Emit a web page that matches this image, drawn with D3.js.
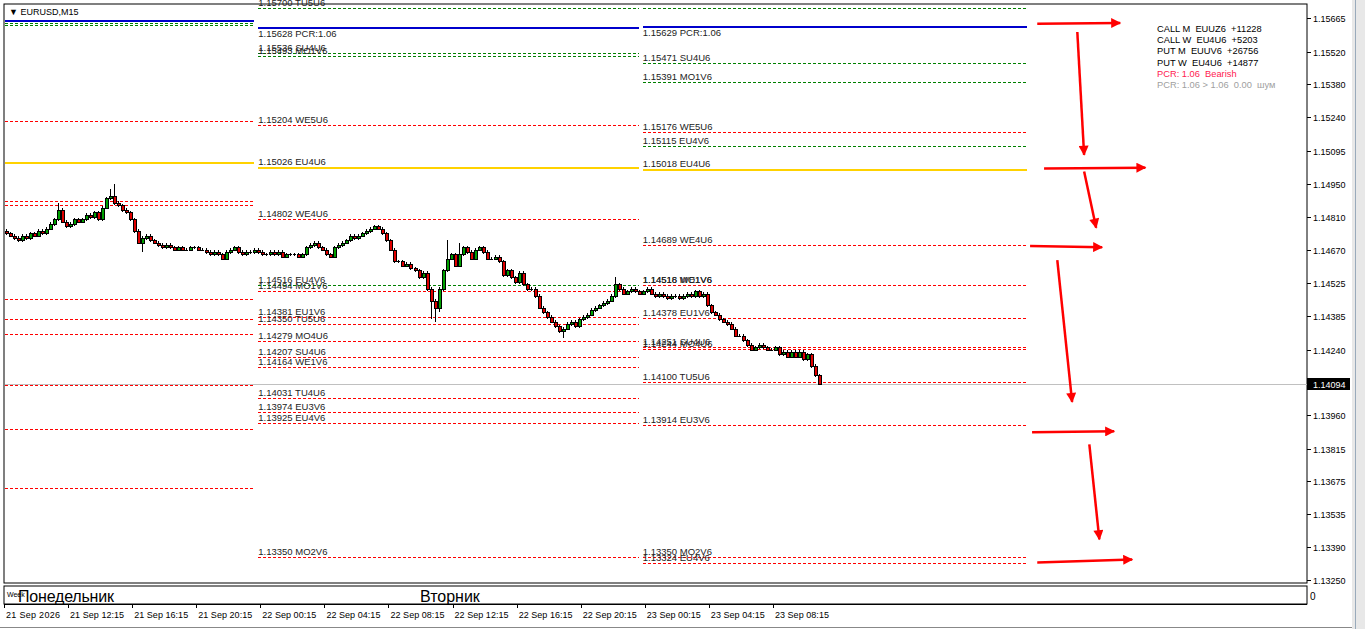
<!DOCTYPE html>
<html><head><meta charset="utf-8">
<script src="https://cdn.jsdelivr.net/npm/d3@7"></script>
<style>body{margin:0;background:#fff;overflow:hidden}svg{display:block}text{font-family:"Liberation Sans",Arial,sans-serif;white-space:pre}line{shape-rendering:crispEdges}</style>
</head><body><svg id="c" width="1365" height="629"></svg>
<script>
const closes=[1.1474,1.1473,1.1472,1.1471,1.1473,1.1472,1.1474,1.1473,1.1475,1.1474,
1.1476,1.1478,1.1480,1.1484,1.1479,1.1477,1.1478,1.1480,1.1479,1.1480,
1.1482,1.1481,1.1483,1.1480,1.1485,1.1489,1.1490,1.1487,1.1486,1.1484,
1.1483,1.1480,1.1475,1.1470,1.1472,1.1473,1.1471,1.1470,1.1469,1.1468,
1.1469,1.1468,1.1467,1.1468,1.1467,1.1467,1.1468,1.1468,1.1467,1.1467,
1.1466,1.1465,1.1466,1.1465,1.1463,1.1466,1.1467,1.1468,1.1466,1.1465,
1.1466,1.1466,1.1467,1.1466,1.1465,1.1465,1.1466,1.1465,1.1466,1.1464,
1.1465,1.1465,1.1465,1.1464,1.1465,1.1468,1.1469,1.1470,1.1468,1.1467,
1.1465,1.1464,1.1468,1.1469,1.1470,1.1471,1.1473,1.1472,1.1473,1.1474,
1.1475,1.1476,1.1477,1.1476,1.1474,1.1471,1.1467,1.1462,1.1462,1.1460,
1.1461,1.1459,1.1458,1.1455,1.1457,1.1450,1.1445,1.1442,1.1450,1.1458,
1.1463,1.1465,1.1460,1.1465,1.1468,1.1466,1.1463,1.1467,1.1468,1.1466,
1.1463,1.1463,1.1464,1.1462,1.1456,1.1458,1.1455,1.1453,1.1457,1.1452,
1.1450,1.1450,1.1447,1.1442,1.1440,1.1438,1.1436,1.1434,1.1432,1.1433,
1.1435,1.1436,1.1434,1.1437,1.1438,1.1439,1.1441,1.1442,1.1443,1.1444,
1.1445,1.1447,1.1452,1.1450,1.1448,1.1449,1.1450,1.1449,1.1448,1.1449,
1.1450,1.1448,1.1447,1.1448,1.1447,1.1446,1.1447,1.1447,1.1446,1.1447,
1.1448,1.1447,1.1449,1.1447,1.1448,1.1443,1.1440,1.1439,1.1437,1.1436,
1.1435,1.1433,1.1430,1.1430,1.1428,1.1426,1.1424,1.1425,1.1426,1.1425,
1.1424,1.1424,1.1425,1.1422,1.1423,1.1421,1.1423,1.1421,1.1423,1.1420,
1.1422,1.1417,1.1413,1.14094];
const firstOpen=1.1475;
const highOverrides={27:1.1495,26:1.1493,13:1.1487,110:1.1471,113:1.1470,152:1.1455};
const lowOverrides={107:1.1436,106:1.1437,108:1.1440,34:1.1466,139:1.1429};
const yTicks=[1.15665,1.15520,1.15380,1.15240,1.15095,1.14950,1.14810,1.14670,1.14525,1.14385,1.14240,1.13960,1.13815,1.13675,1.13535,1.13390,1.13250];
const timeLabels=["21 Sep 2026","21 Sep 12:15","21 Sep 16:15","21 Sep 20:15","22 Sep 00:15","22 Sep 04:15","22 Sep 08:15","22 Sep 12:15","22 Sep 16:15","22 Sep 20:15","23 Sep 00:15","23 Sep 04:15","23 Sep 08:15"];
const dayNames=["Понедельник","Вторник"];
const leftLevels=[[1.15656,"","blue","solid"],[1.15643,"","green","dash"],[1.15635,"","green","dash"],[1.15222,"","red","dash"],[1.15046,"","gold","solid"],[1.14879,"","red","dash"],[1.14862,"","red","dash"],[1.14459,"","red","dash"],[1.14373,"","red","dash"],[1.14309,"","red","dash"],[1.14090,"","red","dash"],[1.13897,"","red","dash"],[1.13645,"","red","dash"]];
const midLevels=[[1.15708,"1.15700 TU5U6","green","dash"],[1.15628,"1.15628 PCR:1.06","blue","solid"],[1.15515,"1.15536 SU4U6","green","dash"],[1.15502,"1.15493 MO1V6","green","dash"],[1.15204,"1.15204 WE5U6","red","dash"],[1.15026,"1.15026 EU4U6","gold","solid"],[1.14802,"1.14802 WE4U6","red","dash"],[1.14516,"1.14516 EU4V6","green","dash"],[1.14494,"1.14494 MO1V6","red","dash"],[1.14381,"1.14381 EU1V6","red","dash"],[1.14350,"1.14350 TU5U6","red","dash"],[1.14279,"1.14279 MO4U6","red","dash"],[1.14207,"1.14207 SU4U6","red","dash"],[1.14164,"1.14164 WE1V6","red","dash"],[1.14031,"1.14031 TU4U6","red","dash"],[1.13974,"1.13974 EU3V6","red","dash"],[1.13925,"1.13925 EU4V6","red","dash"],[1.13350,"1.13350 MO2V6","red","dash"]];
const rightLevels=[[1.15708,"","green","dash"],[1.15629,"1.15629 PCR:1.06","blue","solid"],[1.15471,"1.15471 SU4U6","green","dash"],[1.15391,"1.15391 MO1V6","green","dash"],[1.15176,"1.15176 WE5U6","red","dash"],[1.15115,"1.15115 EU4V6","green","dash"],[1.15018,"1.15018 EU4U6","gold","solid"],[1.14689,"1.14689 WE4U6","red","dash"],[1.14518,"1.14518 MO1V6","red","dash"],[1.14516,"1.14516 WE1V6","red","dash"],[1.14378,"1.14378 EU1V6","red","dash"],[1.14251,"1.14251 SU4U6","red","dash"],[1.14244,"1.14244 MO4U6","red","dash"],[1.14100,"1.14100 TU5U6","red","dash"],[1.13914,"1.13914 EU3V6","red","dash"],[1.13350,"1.13350 MO2V6","red","dash"],[1.13324,"1.13324 EU4V6","red","dash"]];
const arrows=[[257.5,1.15640,278.2,1.15644],[267.5,1.15605,269.2,1.15077],[259.2,1.15018,284.5,1.15022],[269.2,1.15005,272.2,1.14764],[255.7,1.14685,273.7,1.14680],[262.5,1.14625,266.2,1.14015],[256.2,1.13885,276.7,1.13889],[270.5,1.13833,273,1.13425],[257.5,1.13325,281.2,1.13338]];
const legendLines=[["CALL M  EUUZ6  +11228","#000"],["CALL W  EU4U6  +5203","#000"],["PUT M  EUUV6  +26756","#000"],["PUT W  EU4U6  +14877","#000"],["PCR: 1.06  Bearish","#ff2050"],["PCR: 1.06 > 1.06  0.00  шум","#a0a0a0"]];
const currentPrice=1.14094;

const svg=d3.select("#c");
const x=d3.scaleLinear().domain([0,203]).range([6,819]);
const y=d3.scaleLinear().domain([1.13250,1.15665]).range([580,18]);
const colors={red:"#ff0000",green:"#008000",blue:"#0000cc",gold:"#ffd200"};
const L=5,R=1307,T=4,B=583;
svg.append("rect").attr("x",L-1).attr("y",T).attr("width",R-L+1).attr("height",B-T).attr("fill","#fff").attr("stroke","#000");
const g=svg.append("g");
g.append("line").attr("x1",L).attr("x2",R).attr("y1",Math.round(y(currentPrice))+0.5).attr("y2",Math.round(y(currentPrice))+0.5).attr("stroke","#c0c0c0");
function drawLevels(levels,i0,i1){
  levels.forEach(([p,lab,c,s])=>{
    const yy=Math.round(y(p))+0.5;
    g.append("line").attr("x1",Math.round(x(i0))).attr("x2",Math.round(x(i1))).attr("y1",yy).attr("y2",yy)
     .attr("stroke",colors[c]).attr("stroke-width",s==="solid"?2:1).attr("stroke-dasharray",s==="solid"?null:"3,2");
    if(lab){const below=lab.includes("PCR");
      g.append("text").attr("x",x(i0)).attr("y",below?yy+9:yy-3).attr("font-size",9.5).attr("fill","#222").text(lab);}
  });
}
drawLevels(leftLevels,-0.25,62);
drawLevels(midLevels,63,158);
drawLevels(rightLevels,159,255);
const bars=closes.map((c,i)=>{const o=i?closes[i-1]:firstOpen;return{i,o,c,h:highOverrides[i]??Math.max(o,c)+0.00007,l:lowOverrides[i]??Math.min(o,c)-0.00007};});
const cg=g.append("g");
bars.forEach(b=>{const xx=Math.round(x(b.i))+0.5;
  cg.append("line").attr("x1",xx).attr("x2",xx).attr("y1",y(b.h)).attr("y2",y(b.l)).attr("stroke","#000");
  const top=Math.round(y(Math.max(b.o,b.c))),bot=Math.round(y(Math.min(b.o,b.c)));
  if(bot-top<2){cg.append("line").attr("x1",xx-1.5).attr("x2",xx+1.5).attr("y1",top+0.5).attr("y2",top+0.5).attr("stroke","#000");}
  else cg.append("rect").attr("x",xx-1.5).attr("y",top+0.5).attr("width",3).attr("height",bot-top).attr("fill",b.c>=b.o?"#00a000":"#e00000").attr("stroke","#000").attr("stroke-width",1).attr("shape-rendering","crispEdges");
});
svg.append("defs").append("marker").attr("id","ah").attr("viewBox","0 0 10 10").attr("refX",9).attr("refY",5).attr("markerWidth",5).attr("markerHeight",4).attr("orient","auto")
 .append("path").attr("d","M0,0L10,5L0,10z").attr("fill","#ff0000");
arrows.forEach(([a,p,b,q])=>g.append("line").style("shape-rendering","auto").attr("x1",x(a)).attr("y1",y(p)).attr("x2",x(b)).attr("y2",y(q)).attr("stroke","#ff0000").attr("stroke-width",2.5).attr("marker-end","url(#ah)"));
legendLines.forEach(([t,c],k)=>svg.append("text").attr("x",1157).attr("y",32+k*11.2).attr("font-size",9.3).attr("fill",c).text(t));
svg.append("text").attr("x",9).attr("y",15).attr("font-size",9).text("▼ EURUSD,M15");
yTicks.forEach(t=>{const yy=Math.round(y(t))+0.5;
  svg.append("line").attr("x1",R).attr("x2",R+4).attr("y1",yy).attr("y2",yy).attr("stroke","#000");
  svg.append("text").attr("x",1313).attr("y",yy+3.5).attr("font-size",9).text(t.toFixed(5));});
const cy=Math.round(y(currentPrice));
svg.append("rect").attr("x",R).attr("y",cy-6).attr("width",43).attr("height",12).attr("fill","#000");
svg.append("text").attr("x",1313).attr("y",cy+3.5).attr("font-size",9).attr("fill","#fff").text(currentPrice.toFixed(5));
svg.append("rect").attr("x",L-1).attr("y",586).attr("width",R-L+1).attr("height",18).attr("fill","#fff").attr("stroke","#000");
svg.append("text").attr("x",7).attr("y",597).attr("font-size",7).text("Week");
svg.append("text").attr("x",18).attr("y",602).attr("font-size",16).attr("textLength",96).text(dayNames[0]);
svg.append("text").attr("x",420).attr("y",602).attr("font-size",16).text(dayNames[1]);
svg.append("text").attr("x",1310).attr("y",600).attr("font-size",10).text("0");
svg.append("line").attr("x1",L-1).attr("x2",R).attr("y1",604.5).attr("y2",604.5).attr("stroke","#000");
timeLabels.forEach((t,k)=>{const xx=x(k*16)-2;
  svg.append("line").attr("x1",Math.round(xx)+0.5).attr("x2",Math.round(xx)+0.5).attr("y1",604).attr("y2",608).attr("stroke","#000");
  svg.append("text").attr("x",xx+2).attr("y",618).attr("font-size",9).attr("textLength",54).text(t);});
svg.append("line").attr("x1",0).attr("x2",1365).attr("y1",627.5).attr("y2",627.5).attr("stroke","#888");
svg.append("rect").attr("x",1352).attr("y",0).attr("width",13).attr("height",629).attr("fill","#e8e8e8");
svg.append("line").attr("x1",1355.5).attr("x2",1355.5).attr("y1",0).attr("y2",629).attr("stroke","#9ab");
</script></body></html>
